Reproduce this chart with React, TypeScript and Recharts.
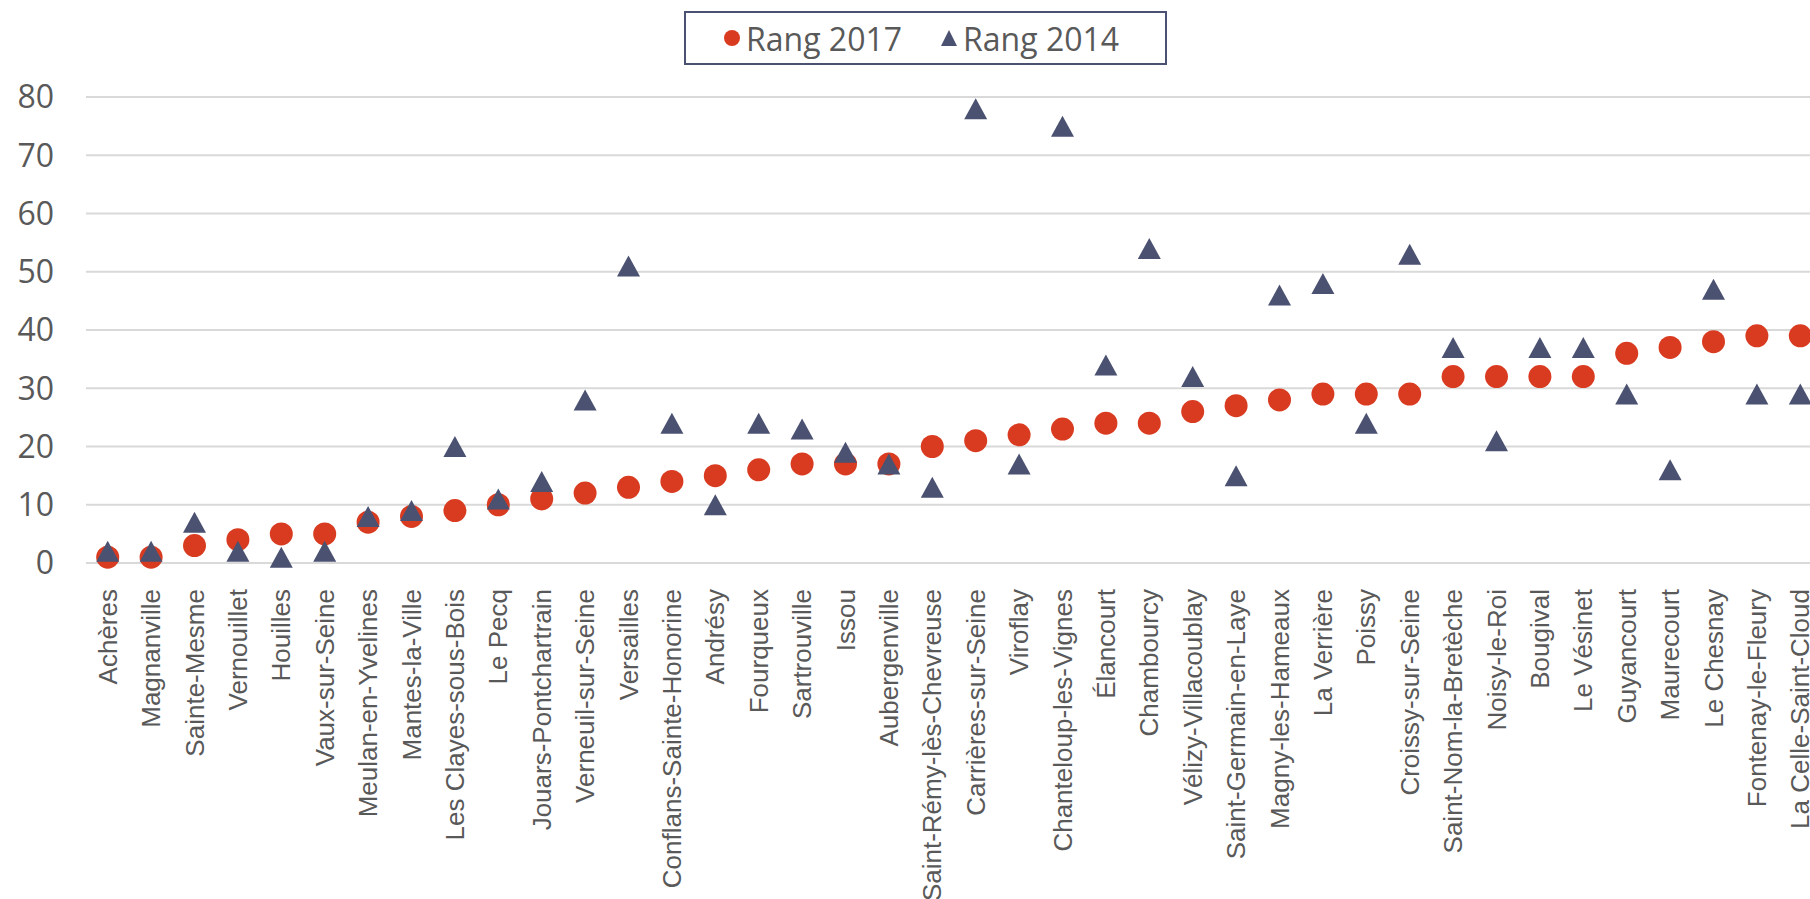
import { LineChart, Line, XAxis, YAxis, CartesianGrid, Legend } from 'recharts';

const communes = [
  'Achères', 'Magnanville', 'Sainte-Mesme', 'Vernouillet', 'Houilles', 'Vaux-sur-Seine',
  'Meulan-en-Yvelines', 'Mantes-la-Ville', 'Les Clayes-sous-Bois', 'Le Pecq', 'Jouars-Pontchartrain',
  'Verneuil-sur-Seine', 'Versailles', 'Conflans-Sainte-Honorine', 'Andrésy', 'Fourqueux',
  'Sartrouville', 'Issou', 'Aubergenville', 'Saint-Rémy-lès-Chevreuse', 'Carrières-sur-Seine',
  'Viroflay', 'Chanteloup-les-Vignes', 'Élancourt', 'Chambourcy', 'Vélizy-Villacoublay',
  'Saint-Germain-en-Laye', 'Magny-les-Hameaux', 'La Verrière', 'Poissy', 'Croissy-sur-Seine',
  'Saint-Nom-la-Bretèche', 'Noisy-le-Roi', 'Bougival', 'Le Vésinet', 'Guyancourt', 'Maurecourt',
  'Le Chesnay', 'Fontenay-le-Fleury', 'La Celle-Saint-Cloud',
];

const rang2017 = [
  1, 1, 3, 4, 5, 5, 7, 8, 9, 10, 11, 12, 13, 14, 15, 16, 17, 17, 17, 20,
  21, 22, 23, 24, 24, 26, 27, 28, 29, 29, 29, 32, 32, 32, 32, 36, 37, 38, 39, 39,
];

const rang2014 = [
  2, 2, 7, 2, 1, 2, 8, 9, 20, 11, 14, 28, 51, 24, 10, 24, 23, 19, 17, 13,
  78, 17, 75, 34, 54, 32, 15, 46, 48, 24, 53, 37, 21, 37, 37, 29, 16, 47, 29, 29,
];

const yTicks = [0, 10, 20, 30, 40, 50, 60, 70, 80];

const data = communes.map((name, i) => ({ name, r2017: rang2017[i], r2014: rang2014[i] }));

const RED = '#D93B20';
const NAVY = '#4B5170';
const TEXT = '#595959';
const UI_FONT = "'Open Sans', 'Noto Sans', sans-serif";

const CircleDot = (props: any) => {
  const { cx, cy, index } = props;
  if (cx == null || cy == null) return null;
  return <circle key={`c-${index}`} cx={cx} cy={cy} r={11.5} fill={RED} />;
};

const TriangleDot = (props: any) => {
  const { cx, cy, index } = props;
  if (cx == null || cy == null) return null;
  const pts = `${cx},${cy - 10.5} ${cx - 11.5},${cy + 10.5} ${cx + 11.5},${cy + 10.5}`;
  return <polygon key={`t-${index}`} points={pts} fill={NAVY} />;
};

const CommuneTick = ({ x, y, payload }: any) => (
  <g transform={`translate(${x},${y + 26})`}>
    <text
      transform="rotate(-90)"
      x={0}
      y={0}
      dy="0.35em"
      textAnchor="end"
      fill={TEXT}
      fontSize={26}
      fontFamily="'Liberation Sans', Arial, sans-serif"
    >
      {payload.value}
    </text>
  </g>
);

const LegendBox = () => (
  <div
    style={{
      width: 479,
      height: 50,
      border: `2px solid ${NAVY}`,
      background: '#fff',
      display: 'flex',
      alignItems: 'center',
      fontFamily: UI_FONT,
      fontSize: 32,
      color: TEXT,
    }}
  >
    <svg width={18} height={18} style={{ marginLeft: 37 }}>
      <circle cx={9} cy={9} r={8} fill={RED} />
    </svg>
    <span style={{ marginLeft: 5 }}>Rang 2017</span>
    <svg width={18} height={18} style={{ marginLeft: 38 }}>
      <polygon points="9,1 1,17 17,17" fill={NAVY} />
    </svg>
    <span style={{ marginLeft: 5 }}>Rang 2014</span>
  </div>
);

export default function App() {
  return (
    <div
      style={{
        position: 'absolute',
        left: 0,
        top: 0,
        width: 1810,
        height: 899,
        overflow: 'hidden',
        background: '#fff',
      }}
    >
      <LineChart width={1830} height={899} data={data} margin={{ top: 97, right: 8, left: 0, bottom: 0 }}>
        <CartesianGrid vertical={false} stroke="#D9D9D9" strokeWidth={2} />
        <XAxis
          dataKey="name"
          scale="band"
          interval={0}
          tickLine={false}
          axisLine={false}
          tickSize={0}
          tickMargin={0}
          height={336}
          tick={<CommuneTick />}
        />
        <YAxis
          domain={[0, 80]}
          ticks={yTicks}
          width={86}
          tickLine={false}
          axisLine={false}
          tickSize={0}
          tickMargin={32}
          tick={{ fill: TEXT, fontSize: 32, fontFamily: UI_FONT }}
        />
        <Legend
          layout="horizontal"
          verticalAlign="middle"
          align="center"
          content={<LegendBox />}
          wrapperStyle={{ top: 11, left: 684, width: 483, height: 54 }}
        />
        <Line
          dataKey="r2017"
          name="Rang 2017"
          stroke="none"
          dot={CircleDot}
          activeDot={false}
          isAnimationActive={false}
        />
        <Line
          dataKey="r2014"
          name="Rang 2014"
          stroke="none"
          dot={TriangleDot}
          activeDot={false}
          isAnimationActive={false}
        />
      </LineChart>
    </div>
  );
}
